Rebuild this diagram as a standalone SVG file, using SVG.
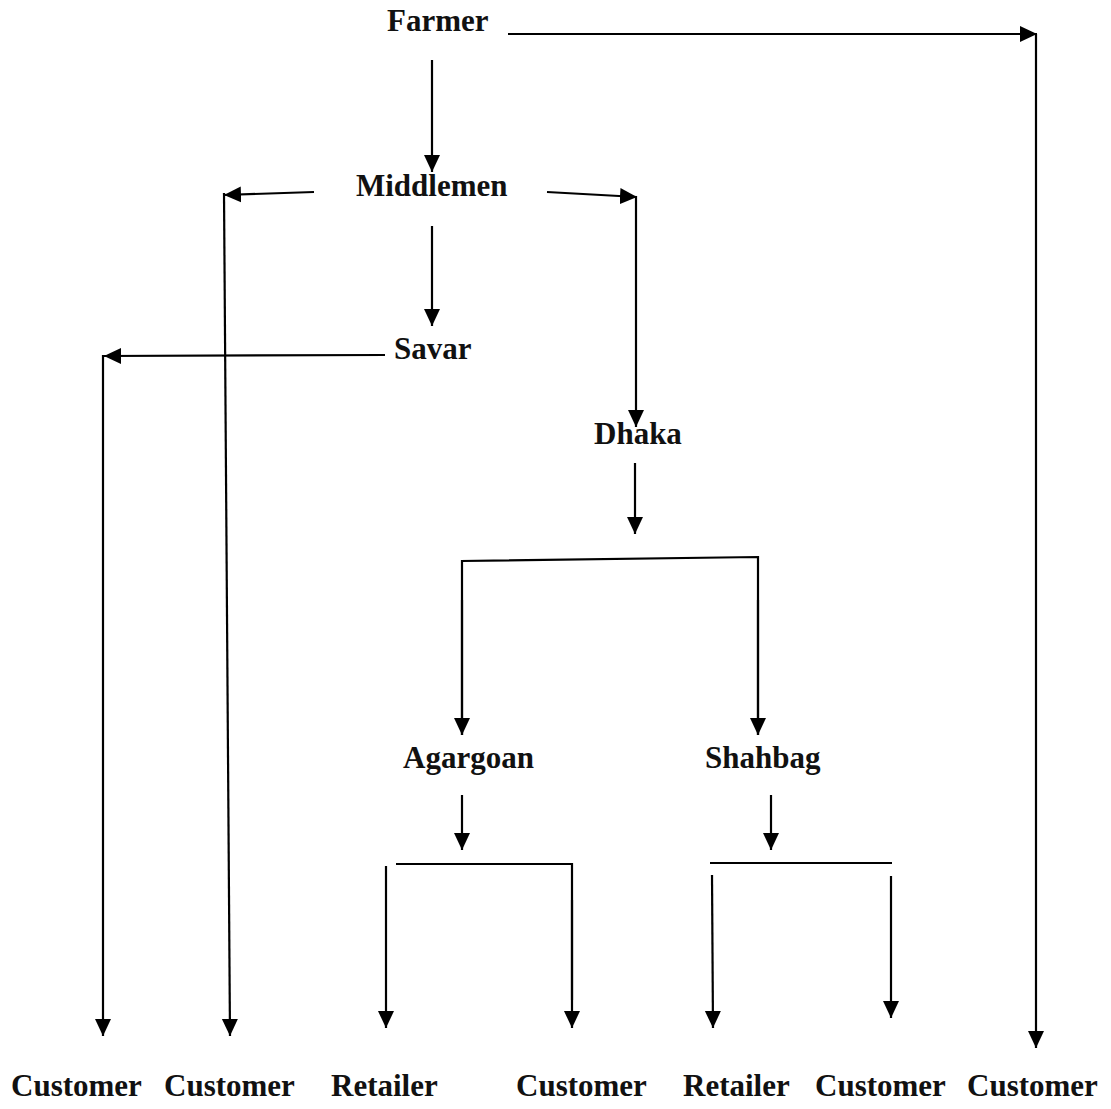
<svg xmlns="http://www.w3.org/2000/svg" width="1111" height="1109" viewBox="0 0 1111 1109">
<style>
text{font-family:"Liberation Serif","Times New Roman",serif;font-weight:bold;font-size:31px;fill:#111}
.c line,.c polyline{stroke:#000;stroke-width:2.2;fill:none}
.a{marker-end:url(#ah)}
</style>
<defs>
<marker id="ah" markerUnits="userSpaceOnUse" markerWidth="18" markerHeight="18" viewBox="0 0 18 18" refX="17" refY="9" orient="auto">
<path d="M0,1 L17,9 L0,17 Z" fill="#000"/>
</marker>
</defs>
<rect width="1111" height="1109" fill="#fff"/>
<g id="n-farmer"><text x="387" y="31">Farmer</text></g>
<g id="n-middlemen"><text x="356" y="196">Middlemen</text></g>
<g id="n-savar"><text x="394" y="359">Savar</text></g>
<g id="n-dhaka"><text x="594" y="444">Dhaka</text></g>
<g id="n-agargoan"><text x="403" y="768">Agargoan</text></g>
<g id="n-shahbag"><text x="705" y="768">Shahbag</text></g>
<g id="n-customer1"><text x="11" y="1096">Customer</text></g>
<g id="n-customer2"><text x="164" y="1096">Customer</text></g>
<g id="n-retailer1"><text x="331" y="1096">Retailer</text></g>
<g id="n-customer3"><text x="516" y="1096">Customer</text></g>
<g id="n-retailer2"><text x="683" y="1096">Retailer</text></g>
<g id="n-customer4"><text x="815" y="1096">Customer</text></g>
<g id="n-customer5"><text x="967" y="1096">Customer</text></g>
<g id="connectors" class="c">
<line class="a" x1="508" y1="34" x2="1037" y2="34"/>
<line class="a" x1="1036" y1="34" x2="1036" y2="1048"/>
<line class="a" x1="432" y1="60" x2="432" y2="172"/>
<line class="a" x1="314" y1="192" x2="224" y2="195"/>
<line class="a" x1="224" y1="193" x2="230" y2="1036"/>
<line class="a" x1="547" y1="192" x2="637" y2="197"/>
<line class="a" x1="636" y1="196" x2="636" y2="427"/>
<line class="a" x1="432" y1="226" x2="432" y2="326"/>
<line class="a" x1="385" y1="355" x2="104" y2="356"/>
<line class="a" x1="103" y1="355" x2="103" y2="1036"/>
<line class="a" x1="635" y1="463" x2="635" y2="534"/>
<polyline points="462,735 462,561 758,557 758,735"/>
<line class="a" x1="462" y1="600" x2="462" y2="735"/>
<line class="a" x1="758" y1="600" x2="758" y2="735"/>
<line class="a" x1="462" y1="795" x2="462" y2="850"/>
<line class="a" x1="771" y1="795" x2="771" y2="850"/>
<polyline points="396,864 572,864 572,1000"/>
<line class="a" x1="386" y1="866" x2="386" y2="1028"/>
<line class="a" x1="572" y1="900" x2="572" y2="1028"/>
<line x1="710" y1="863" x2="892" y2="863"/>
<line class="a" x1="712" y1="875" x2="713" y2="1028"/>
<line class="a" x1="891" y1="876" x2="891" y2="1018"/>
</g>
</svg>
